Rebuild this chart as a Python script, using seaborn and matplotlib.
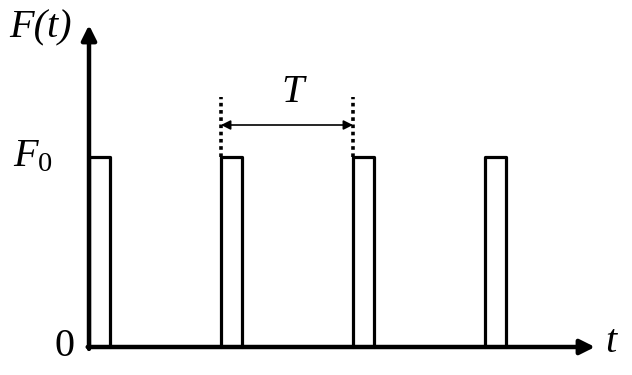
import matplotlib
matplotlib.use('Agg')
import matplotlib.pyplot as plt
import seaborn as sns
import pandas as pd

# ---- data (time in units of the period T, force in units of F0) ----
pulse_starts = [0, 1, 2, 3]
pulse_width = 0.16
F0 = 1.0
period_marks = [1, 2]          # the two pulses bracketed by the "T" arrow
x_tick_labels = ["0"]
y_tick_labels = ["$F_0$"]

sns.set_theme(style='white')
plt.rcParams['font.family'] = ['Liberation Serif', 'DejaVu Serif']
plt.rcParams['mathtext.fontset'] = 'custom'
plt.rcParams['mathtext.rm'] = 'Liberation Serif'
plt.rcParams['mathtext.it'] = 'Liberation Serif:italic'
plt.rcParams['text.color'] = 'black'

rows = []
for i, s in enumerate(pulse_starts):
    for x, y in [(s, 0), (s, F0), (s + pulse_width, F0), (s + pulse_width, 0)]:
        rows.append({'pulse': i, 't': x, 'F': y})
df = pd.DataFrame(rows)

fig = plt.figure(figsize=(6.32, 3.75), dpi=100)
ax = fig.add_axes([0, 0, 1, 1])
ax.set_axis_off()

# pixel-based frame: origin at (89, 347) px, 132 px per T, 190 px per F0
px_T, px_F = 132.0, 190.0
ax.set_xlim(-89 / px_T, (632 - 89) / px_T)
ax.set_ylim(-(375 - 347) / px_F, 347 / px_F)

sns.lineplot(data=df, x='t', y='F', units='pulse', estimator=None, sort=False,
             color='black', linewidth=2.3, ax=ax, legend=False)

# axes with arrows
y_tip = (347 - 25) / px_F
x_tip = (595 - 89) / px_T
ax.annotate('', xy=(0, y_tip), xytext=(0, -0.01),
            arrowprops=dict(arrowstyle='-|>', lw=3.2, color='black',
                            mutation_scale=22, shrinkA=0, shrinkB=0))
ax.annotate('', xy=(x_tip, 0), xytext=(-0.01, 0),
            arrowprops=dict(arrowstyle='-|>', lw=3.2, color='black',
                            mutation_scale=22, shrinkA=0, shrinkB=0))

# dotted period markers
y_dot_top = (347 - 97) / px_F
for m in period_marks:
    ax.plot([m, m], [F0, y_dot_top], color='black', lw=2.6, ls=(0, (1, 1)))

# double arrow for T
y_arr = (347 - 125) / px_F
ax.annotate('', xy=(period_marks[1], y_arr), xytext=(period_marks[0], y_arr),
            arrowprops=dict(arrowstyle='<|-|>', lw=1.2, color='black',
                            mutation_scale=14, shrinkA=0, shrinkB=0))

fs = 29
ax.text((293 - 89) / px_T, (347 - 93) / px_F, 'T', fontsize=fs, style='italic',
        ha='center', va='center', color='black')
ax.text((40 - 89) / px_T, (347 - 28) / px_F, 'F(t)', fontsize=fs, style='italic',
        ha='center', va='center', color='black')
ax.text((33 - 89) / px_T, F0, y_tick_labels[0], fontsize=fs,
        ha='center', va='center', color='black')
ax.text((64 - 89) / px_T, 0, x_tick_labels[0], fontsize=fs,
        ha='center', va='center', color='black')
ax.text((611 - 89) / px_T, (347 - 343) / px_F, 't', fontsize=fs, style='italic',
        ha='center', va='center', color='black')

fig.savefig('out.png', dpi=100, facecolor='white')
